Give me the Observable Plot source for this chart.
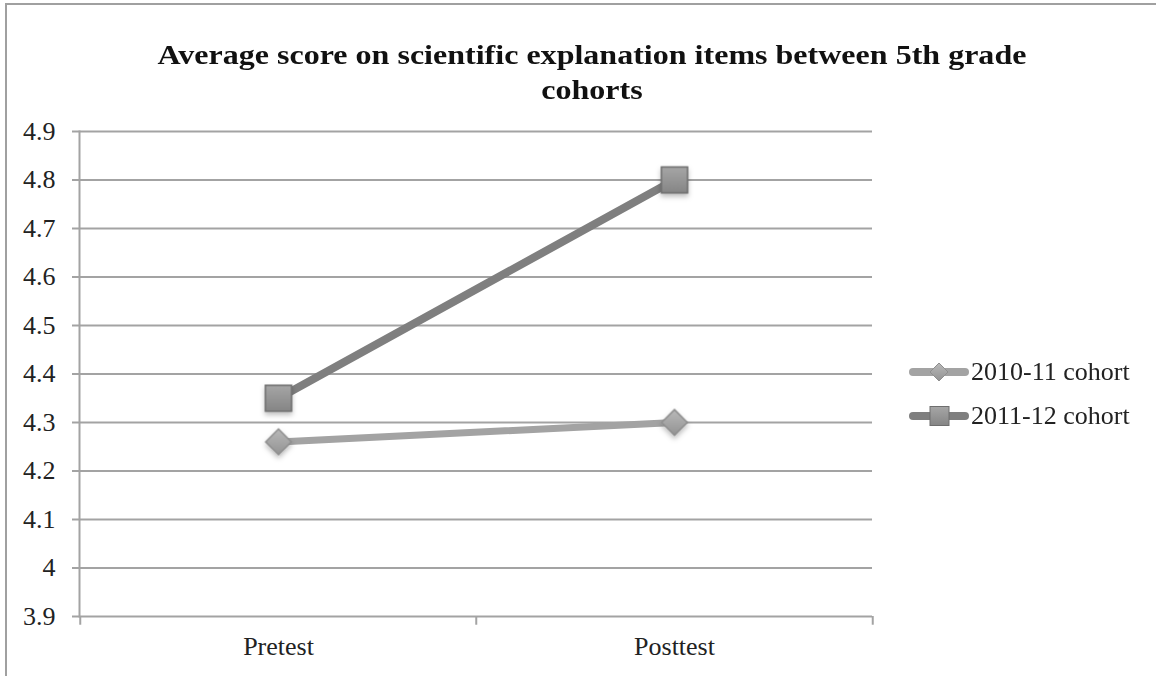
<!DOCTYPE html>
<html>
<head>
<meta charset="utf-8">
<script src="https://cdn.jsdelivr.net/npm/d3@7"></script>
<script src="https://cdn.jsdelivr.net/npm/@observablehq/plot@0.6"></script>
<style>
  html, body { margin: 0; padding: 0; background: #fff; }
  #wrap { position: relative; width: 1156px; height: 676px; overflow: hidden; background: #fff; }
  #frame { position: absolute; left: 5px; top: 3px; width: 1200px; height: 700px;
           border-top: 2px solid #a0a0a0; border-left: 2px solid #a0a0a0; box-sizing: border-box; }
  #title { position: absolute; left: 92px; width: 1000px; top: 37px; text-align: center;
           font-family: "Liberation Serif", "Times New Roman", serif; font-weight: bold;
           font-size: 28px; line-height: 35px; color: #111;
           transform: scaleX(1.144); transform-origin: 500px 0; }
  #legend { position: absolute; left: 908px; top: 350px; font-family: "Liberation Serif", "Times New Roman", serif;
            font-size: 26px; color: #222; }
  .row { display: flex; align-items: center; height: 44px; }
  .row svg { margin-right: 1px; flex: none; }
  #chart { position: absolute; left: 0; top: 0; }
</style>
</head>
<body>
<div id="wrap">
  <div id="chart"></div>
  <div id="frame"></div>
  <div id="title">Average score on scientific explanation items between 5th grade<br>cohorts</div>
  <div id="legend"></div>
</div>
<script>
const categories = ["Pretest", "Posttest"];
const seriesNames = ["2010-11 cohort", "2011-12 cohort"];
const cohort2010 = [4.26, 4.30];
const cohort2011 = [4.35, 4.80];
const yTicks = [3.9, 4.0, 4.1, 4.2, 4.3, 4.4, 4.5, 4.6, 4.7, 4.8, 4.9];
const seriesColors = ["#a3a3a3", "#7f7f7f"];

const data2010 = categories.map((c, i) => ({cat: c, value: cohort2010[i], series: seriesNames[0]}));
const data2011 = categories.map((c, i) => ({cat: c, value: cohort2011[i], series: seriesNames[1]}));

const W = 1156, H = 676;
const mL = 79, mR = 284, mT = 131, mB = 60;
const half = (W - mL - mR) / 4;
const serif = "Liberation Serif, Times New Roman, serif";

const plot = Plot.plot({
  width: W, height: H,
  marginLeft: mL, marginRight: mR, marginTop: mT, marginBottom: mB,
  style: {background: "transparent", overflow: "visible"},
  x: {type: "point", domain: categories, padding: 0.5},
  y: {domain: [3.9, 4.9]},
  marks: [
    Plot.ruleY(yTicks, {stroke: "#a3a3a3", strokeWidth: 2}),
    Plot.frame({anchor: "left", stroke: "#a3a3a3", strokeWidth: 2}),
    Plot.axisY({ticks: yTicks, tickFormat: d => d3.format("")(+d.toFixed(1)), tickSize: 7, tickPadding: 17,
                stroke: "#a3a3a3", strokeWidth: 2, fill: "#222", fontSize: 26,
                fontFamily: serif, label: null}),
    Plot.ruleX([categories[0]], {x: d => d, dx: -half, y1: 3.9, y2: 3.882, stroke: "#a3a3a3", strokeWidth: 2, clip: false}),
    Plot.ruleX([categories[1]], {x: d => d, dx: -half, y1: 3.9, y2: 3.882, stroke: "#a3a3a3", strokeWidth: 2, clip: false}),
    Plot.ruleX([categories[1]], {x: d => d, dx: half, y1: 3.9, y2: 3.882, stroke: "#a3a3a3", strokeWidth: 2, clip: false}),
    Plot.axisX({tickSize: 0, tickPadding: 20, fill: "#222", fontSize: 26,
                fontFamily: serif, label: null}),
    Plot.line(data2010, {x: "cat", y: "value", stroke: seriesColors[0], strokeWidth: 7}),
    Plot.line(data2011, {x: "cat", y: "value", stroke: seriesColors[1], strokeWidth: 8}),
    Plot.dot(data2010, {x: "cat", y: "value", symbol: "diamond2", r: 11.6, fill: "url(#gDiamond)", stroke: "#8e8e8e", strokeWidth: 1.5}),
    Plot.dot(data2011, {x: "cat", y: "value", symbol: "square", r: 14.8, fill: "url(#gSquare)", stroke: "#6e6e6e", strokeWidth: 1.5})
  ]
});

const defs = `<defs>
  <linearGradient id="gDiamond" x1="0" y1="0" x2="0" y2="1">
    <stop offset="0" stop-color="#b9b9b9"/><stop offset="1" stop-color="#939393"/>
  </linearGradient>
  <linearGradient id="gSquare" x1="0" y1="0" x2="0" y2="1">
    <stop offset="0" stop-color="#a6a6a6"/><stop offset="1" stop-color="#858585"/>
  </linearGradient>
  <filter id="shadow" x="-50%" y="-50%" width="200%" height="200%">
    <feDropShadow dx="0" dy="3" stdDeviation="2.5" flood-color="#000" flood-opacity="0.25"/>
  </filter>
</defs>`;
plot.insertAdjacentHTML("afterbegin", defs);
d3.select(plot).selectAll('g[aria-label="dot"]').attr("filter", "url(#shadow)");
document.getElementById("chart").appendChild(plot);

// legend
const legend = d3.select("#legend");
seriesNames.forEach((name, i) => {
  const row = legend.append("div").attr("class", "row");
  const s = row.append("svg").attr("width", 62).attr("height", 30);
  s.append("line").attr("x1", 5).attr("x2", 57).attr("y1", 15).attr("y2", 15)
    .attr("stroke", seriesColors[i]).attr("stroke-width", 8).attr("stroke-linecap", "round");
  if (i === 0) {
    s.append("path").attr("d", "M31,6L40,15L31,24L22,15Z").attr("fill", "url(#gDiamond)").attr("stroke", "#8e8e8e");
  } else {
    s.append("rect").attr("x", 22).attr("y", 5.5).attr("width", 19).attr("height", 19)
      .attr("fill", "url(#gSquare)").attr("stroke", "#6e6e6e");
  }
  row.append("span").text(name);
});
</script>
</body>
</html>
